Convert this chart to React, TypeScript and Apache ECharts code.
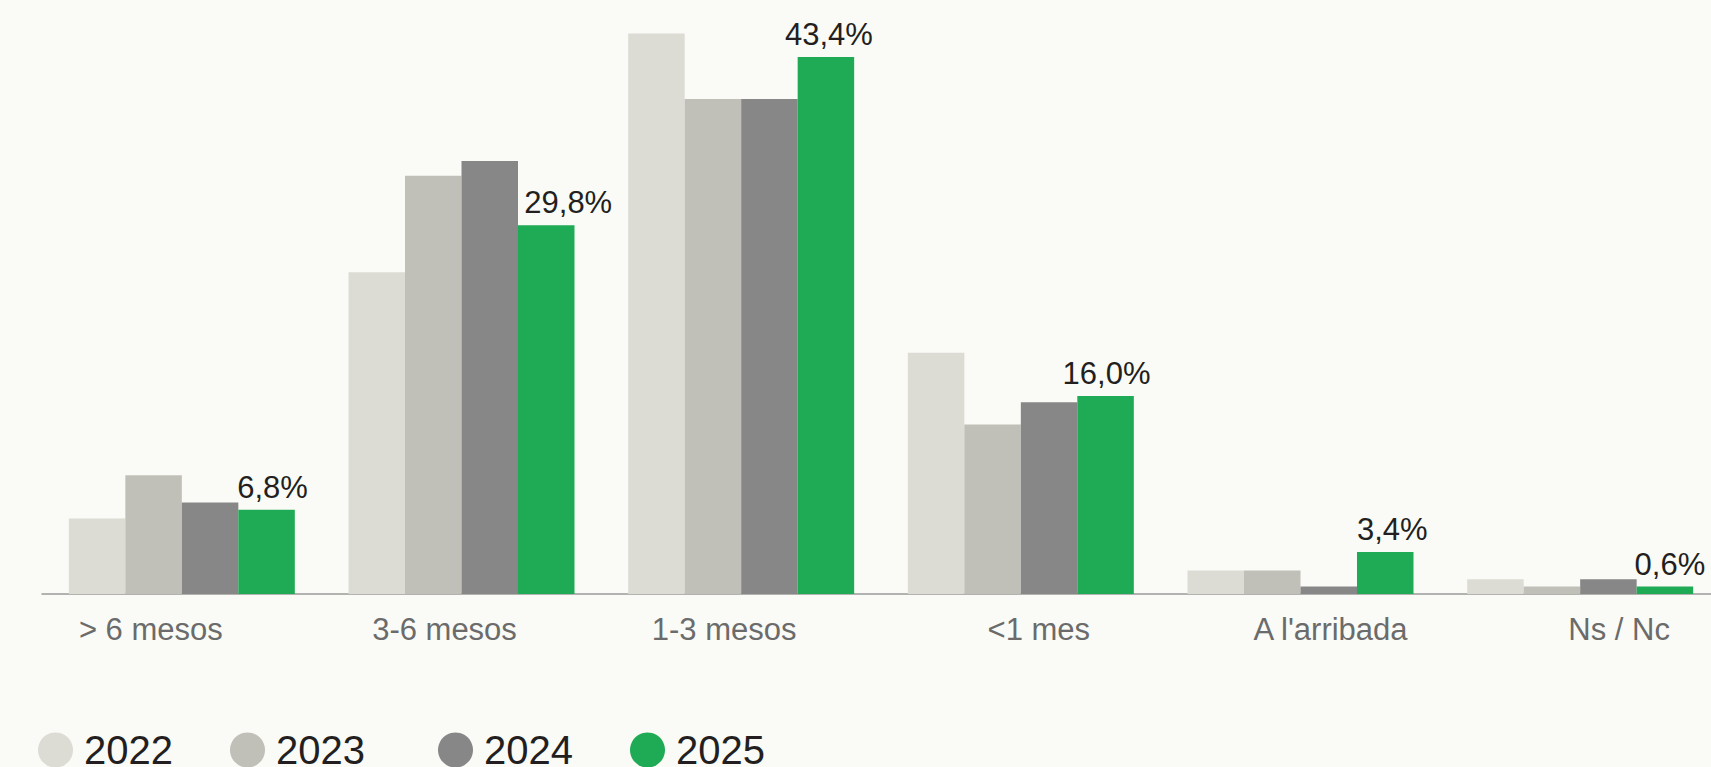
import React, { useEffect, useRef } from "react";
import * as echarts from "echarts";

const categories = ["> 6 mesos", "3-6 mesos", "1-3 mesos", "<1 mes", "A l'arribada", "Ns / Nc"];
const years = ["2022", "2023", "2024", "2025"];
const values2022 = [6.1, 26.0, 45.3, 19.5, 1.9, 1.2];
const values2023 = [9.6, 33.8, 40.0, 13.7, 1.9, 0.6];
const values2024 = [7.4, 35.0, 40.0, 15.5, 0.6, 1.2];
const values2025 = [6.8, 29.8, 43.4, 16.0, 3.4, 0.6];

const seriesValues = [values2022, values2023, values2024, values2025];
const colors = ["#dcdcd5", "#c0c0b8", "#878787", "#1faa55"];

// layout tweaks (pixel shifts of texts relative to their default spot)
const catLabelShift = [-31, -17, -17, 18, 30, 39];
const valueLabelShift = [6, 22, 3, 1, 7, 5];
const legendLeft = [38, 230, 438, 630];

const FONT = "'Liberation Sans', Arial, Helvetica, sans-serif";

export default function App() {
  const ref = useRef<HTMLDivElement>(null);
  useEffect(() => {
    if (!ref.current) return;
    const chart = echarts.init(ref.current, null, { renderer: "svg" });
    const xData = categories.map((c, i) => {
      const s = catLabelShift[i];
      return {
        value: c,
        textStyle: { padding: s >= 0 ? [0, 0, 0, 2 * s] : [0, -2 * s, 0, 0] },
      };
    });
    const series = years.map((y, si) => ({
      name: y,
      type: "bar",
      barGap: "0%",
      barCategoryGap: "19.2%",
      itemStyle: { color: colors[si] },
      data: seriesValues[si].map((v, i) =>
        si === 3
          ? {
              value: v,
              label: {
                show: true,
                position: "top",
                distance: 7,
                offset: [valueLabelShift[i], 0],
                formatter: (p: any) => p.value.toFixed(1).replace(".", ",") + "%",
                fontSize: 31,
                color: "#231f20",
                fontFamily: FONT,
              },
            }
          : v
      ),
    }));
    chart.setOption({
      animation: false,
      backgroundColor: "#fafbf6",
      textStyle: { fontFamily: FONT },
      grid: { left: 42, top: 0, width: 1678, bottom: 173, containLabel: false },
      legend: years.map((y, i) => ({
        data: [y],
        left: legendLeft[i],
        top: 730,
        icon: "circle",
        itemWidth: 35,
        itemHeight: 35,
        selectedMode: false,
        padding: 0,
        textStyle: {
          fontSize: 40,
          lineHeight: 40,
          color: "#231f20",
          fontFamily: FONT,
          padding: [0, 0, 0, 6],
        },
      })),
      xAxis: {
        type: "category",
        data: xData,
        axisLine: { show: true, lineStyle: { color: "#9a9a9a", width: 1.5 } },
        axisTick: { show: false },
        axisLabel: {
          fontSize: 31,
          color: "#6b6b6b",
          margin: 20,
          fontFamily: FONT,
        },
      },
      yAxis: {
        type: "value",
        min: 0,
        max: 48,
        show: false,
        splitLine: { show: false },
      },
      series,
    });
    return () => chart.dispose();
  }, []);
  return (
    <div
      ref={ref}
      style={{ position: "fixed", left: 0, top: 0, width: 1730, height: 767 }}
    />
  );
}
